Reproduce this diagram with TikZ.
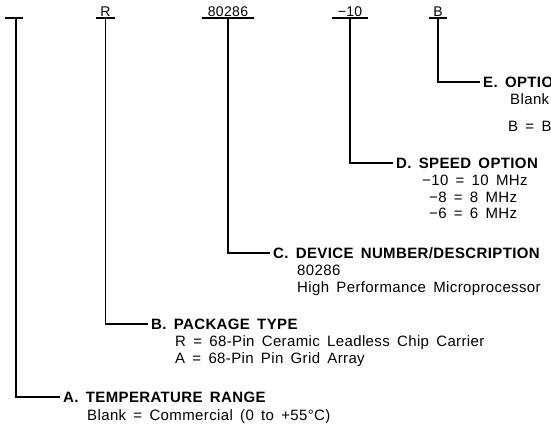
\documentclass[tikz,border=0pt]{standalone}
\usepackage{fontspec}
\setmainfont[LetterSpace=2.5,WordSpace=1.6]{Liberation Sans}
\begin{document}
\begin{tikzpicture}[x=1pt,y=-1pt,
  wire/.style={line width=1.1pt},
  code/.style={anchor=south, inner xsep=0pt, inner ysep=1.5pt, text height=10pt, text depth=0pt, font=\fontsize{14}{16}\selectfont},
  head/.style={anchor=west, inner xsep=3pt, inner ysep=0pt, text height=10.7pt, text depth=0pt, font=\fontsize{15}{17}\selectfont\bfseries},
  body/.style={anchor=west, inner sep=0pt, text height=10.7pt, text depth=0pt, font=\fontsize{15}{17}\selectfont},
]
\useasboundingbox (0,0) rectangle (551,427);
% top code fields
\node[code, minimum width=17pt] (cA) at (14,18) {};
\node[code, minimum width=19pt] (cB) at (105.5,18) {R};
\node[code, minimum width=52pt] (cC) at (228,18) {80286};
\node[code, minimum width=36pt] (cD) at (350,18) {−10};
\node[code, minimum width=18pt] (cE) at (438,18) {B};
\foreach \n in {cA,cB,cC,cD,cE}{\draw[wire] (\n.south west) -- (\n.south east);}
% headings
\node[head] (hA) at (60,397) {A. TEMPERATURE RANGE};
\node[head] (hB) at (148,324) {B. PACKAGE TYPE};
\node[head] (hC) at (270,253) {C. DEVICE NUMBER/DESCRIPTION};
\node[head] (hD) at (393,163) {D. SPEED OPTION};
\node[head] (hE) at (480,82) {E. OPTIO};
% connectors
\draw[wire] ([xshift=2pt]cA.south) |- (hA.west);
\draw[wire] (cB.south) |- (hB.west);
\draw[wire] (cC.south) |- (hC.west);
\draw[wire] (cD.south) |- (hD.west);
\draw[wire] (cE.south) |- (hE.west);
% body text
\node[body] (bA1) at (87,415) {Blank = Commercial (0 to +55°C)};
\node[body] (bB1) at (175,341) {R = 68-Pin Ceramic Leadless Chip Carrier};
\node[body] (bB2) at (175,358) {A = 68-Pin Pin Grid Array};
\node[body] (bC1) at (297,270) {80286};
\node[body] (bC2) at (297,287) {High Performance Microprocessor};
\node[body] (bD1) at (422,180) {−10 = 10 MHz};
\node[body] (bD2) at (429,197) {−8 = 8 MHz};
\node[body] (bD3) at (429,213) {−6 = 6 MHz};
\node[body] (bE1) at (510,99) {Blank};
\node[body] (bE2) at (508,126) {B = Bu};
\end{tikzpicture}
\end{document}
